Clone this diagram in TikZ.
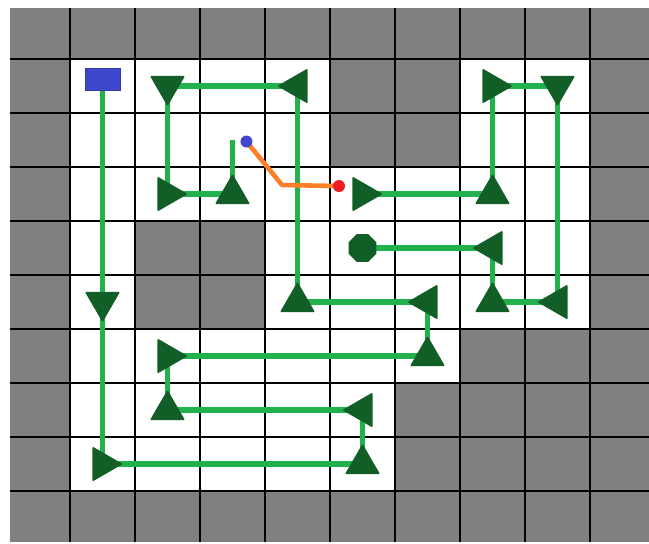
\documentclass[tikz,border=0pt]{standalone}
\usetikzlibrary{shapes.geometric}

\definecolor{wallgray}{RGB}{128,128,128}
\definecolor{trackgreen}{RGB}{34,177,76}
\definecolor{markgreen}{RGB}{17,94,38}
\definecolor{startblue}{RGB}{63,72,204}
\definecolor{pathorange}{RGB}{255,127,39}
\definecolor{dotred}{RGB}{237,28,36}

\pgfdeclarelayer{floor}
\pgfdeclarelayer{track}
\pgfsetlayers{floor,track,main}

\tikzset{
  gridline/.style={black, line width=1.1pt},
  route/.style={trackgreen, line width=3.1pt},
  turn/.style={regular polygon, regular polygon sides=3, draw=markgreen, fill=markgreen,
    line width=1pt, line join=round, inner sep=0pt, minimum size=0.74cm},
  goup/.style={turn},
  godown/.style={turn, shape border rotate=180},
  goleft/.style={turn, shape border rotate=90},
  goright/.style={turn, shape border rotate=-90},
  stopper/.style={regular polygon, regular polygon sides=8, fill=markgreen, inner sep=0pt, minimum size=0.6cm},
  startbox/.style={rectangle, fill=startblue, draw=startblue!80!black, line width=0.4pt,
    inner sep=0pt, minimum width=0.7cm, minimum height=0.44cm},
  dot/.style={circle, inner sep=0pt, minimum size=0.24cm}
}

\begin{document}
\begin{tikzpicture}[x=1.3cm, y=-1.08cm]
\useasboundingbox (-0.077,-0.093) rectangle (9.908,9.963);

% floor plan
\begin{pgfonlayer}{floor}
\begin{scope}
  \clip (0.077,0.056) rectangle (9.908,9.926);
  \fill[wallgray] (0,0) rectangle (10,10);
  \foreach \r/\cols in {1/{1,2,3,4,7,8}, 2/{1,2,3,4,7,8}, 3/{1,...,8}, 4/{1,4,5,6,7,8},
      5/{1,4,5,6,7,8}, 6/{1,...,6}, 7/{1,...,5}, 8/{1,...,5}}
    \foreach \c in \cols
      \fill[white] (\c,\r) rectangle ++(1,1);
  \foreach \k in {1,...,9} {
    \draw[gridline] (\k,0) -- (\k,10);
    \draw[gridline] (0,\k) -- (10,\k);
  }
\end{scope}
\end{pgfonlayer}

% first route
\node[startbox] (start) at (1.5,1.37) {};
\node[godown] (a1) at (1.5,5.5) {};
\node[goright] (a2) at (1.5,8.5) {};
\node[goup] (a3) at (5.5,8.5) {};
\node[goleft] (a4) at (5.5,7.5) {};
\node[goup] (a5) at (2.5,7.5) {};
\node[goright] (a6) at (2.5,6.5) {};
\node[goup] (a7) at (6.5,6.5) {};
\node[goleft] (a8) at (6.5,5.5) {};
\node[goup] (a9) at (4.5,5.5) {};
\node[goleft] (a10) at (4.5,1.5) {};
\node[godown] (a11) at (2.5,1.5) {};
\node[goright] (a12) at (2.5,3.5) {};
\node[goup] (a13) at (3.5,3.5) {};
\coordinate (aend) at (3.5,2.5);

% second route
\node[goright] (b1) at (5.5,3.5) {};
\node[goup] (b2) at (7.5,3.5) {};
\node[goright] (b3) at (7.5,1.5) {};
\node[godown] (b4) at (8.5,1.5) {};
\node[goleft] (b5) at (8.5,5.5) {};
\node[goup] (b6) at (7.5,5.5) {};
\node[goleft] (b7) at (7.5,4.5) {};
\node[stopper] (b8) at (5.5,4.5) {};

% link between the routes
\node[dot, fill=startblue] (linkfrom) at (3.715,2.528) {};
\node[dot, fill=dotred] (linkto) at (5.138,3.352) {};
\coordinate (kink) at (4.262,3.333);

\begin{pgfonlayer}{track}
  \draw[route] (start.center) -- (a1.center) -- (a2.center) -- (a3.center) -- (a4.center)
    -- (a5.center) -- (a6.center) -- (a7.center) -- (a8.center) -- (a9.center)
    -- (a10.center) -- (a11.center) -- (a12.center) -- (a13.center) -- (aend);
  \draw[route] (b1.center) -- (b2.center) -- (b3.center) -- (b4.center) -- (b5.center)
    -- (b6.center) -- (b7.center) -- (b8.center);
  \draw[pathorange, line width=2.6pt, line join=round] (linkfrom.center) -- (kink) -- (linkto.center);
\end{pgfonlayer}
\end{tikzpicture}
\end{document}
